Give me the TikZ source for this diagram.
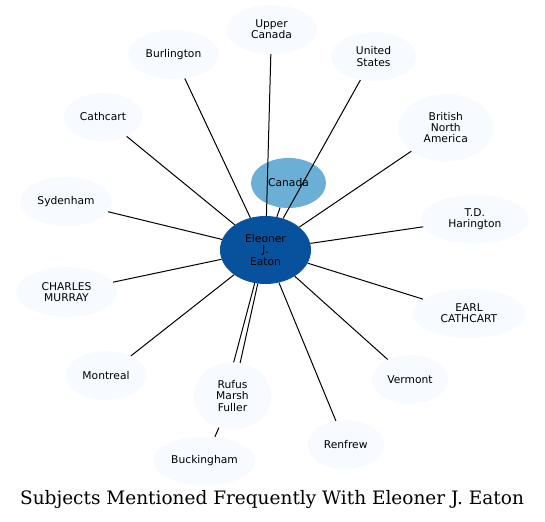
\documentclass[tikz,border=0pt]{standalone}
\usepackage{fontspec}
\newfontfamily\subjfont{DejaVu Sans}
\newfontfamily\titlefont{DejaVu Serif}
\usetikzlibrary{shapes.geometric}
\definecolor{paleblue}{HTML}{F7FBFF}
\definecolor{midblue}{HTML}{6BAED6}
\definecolor{darkblue}{HTML}{08519C}
\tikzset{
	subj/.style={ellipse, fill=paleblue, inner sep=0pt, align=center, minimum height=49pt,
		font=\subjfont\fontsize{10.7}{11.2}\selectfont},
	link/.style={draw=black, line width=1pt},
}

\begin{document}
\begin{tikzpicture}[x=1pt,y=-1pt]
		\useasboundingbox (0,0) rectangle (545,521);
		\node[subj, fill=darkblue, minimum width=91pt, minimum height=68pt] (eaton) at (265.5,250) {Eleoner\\J.\\Eaton};
		\node[subj, fill=midblue, minimum width=75pt, minimum height=50pt] (canada) at (288.5,183) {Canada};
		\node[subj, minimum width=91pt] (uppercanada) at (271.5,29.5) {Upper\\Canada};
		\node[subj, minimum width=91pt] (burlington) at (173.5,54.5) {Burlington};
		\node[subj, minimum width=85pt] (unitedstates) at (373.5,56.5) {United\\States};
		\node[subj, minimum width=79pt, minimum height=48pt] (cathcart) at (103,117) {Cathcart};
		\node[subj, minimum width=95pt, minimum height=67.5pt] (bna) at (445.8,127.8) {British\\North\\America};
		\node[subj, minimum width=92pt] (sydenham) at (66,201.5) {Sydenham};
		\node[subj, minimum width=108pt] (harington) at (474.8,219.2) {T.D.\\Harington};
		\node[subj, minimum width=101pt, minimum height=50pt] (murray) at (66.5,292) {CHARLES\\MURRAY};
		\node[subj, minimum width=113pt] (earl) at (469,313.5) {EARL\\CATHCART};
		\node[subj, minimum width=81pt] (montreal) at (106,375.5) {Montreal};
		\node[subj, minimum width=78pt, minimum height=67pt] (rufus) at (232.5,396) {Rufus\\Marsh\\Fuller};
		\node[subj, minimum width=76pt] (vermont) at (410,379.5) {Vermont};
		\node[subj, minimum width=77pt] (renfrew) at (345.7,444.7) {Renfrew};
		\node[subj, minimum width=102pt] (buckingham) at (204.5,461) {Buckingham};
		\node[font=\titlefont\fontsize{18.5}{22}\selectfont] (title) at (272,500) {Subjects Mentioned Frequently With Eleoner J. Eaton};
		% links from the centre node
		\foreach \other in {canada, uppercanada, burlington, unitedstates, cathcart, bna, sydenham,
			harington, murray, earl, montreal, vermont, renfrew}
			\draw[link] (eaton) -- (\other);
		\draw[link] (eaton.-108.7) -- (rufus.88.3);
		\draw[link] (eaton.-103.3) -- (rufus.77);
		\draw[link] (rufus) -- (buckingham);
\end{tikzpicture}
\end{document}
